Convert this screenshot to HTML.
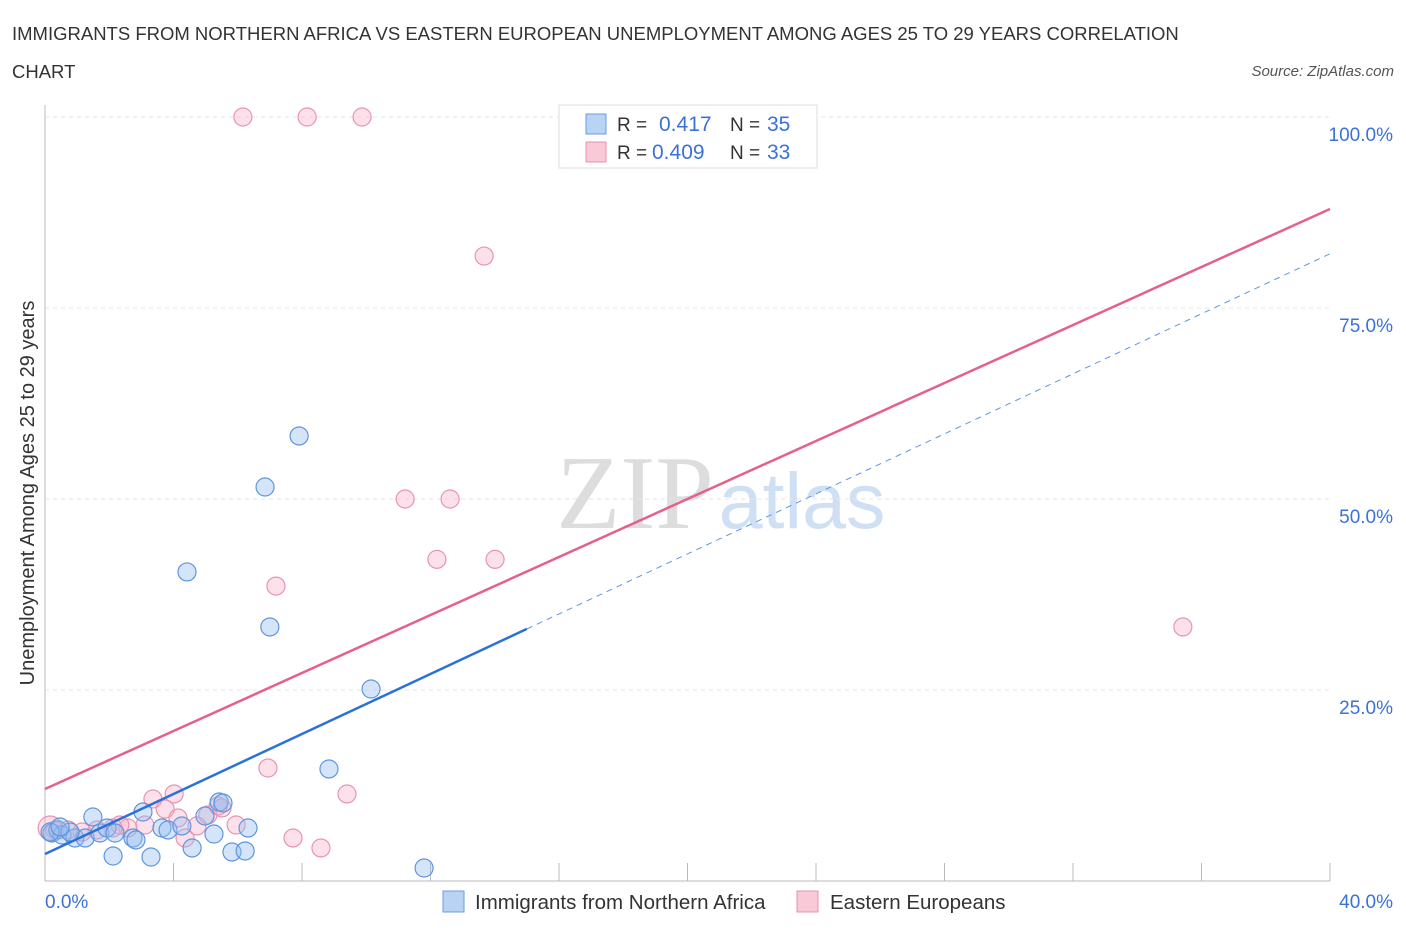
<!DOCTYPE html>
<html><head><meta charset="utf-8"><style>
body{margin:0;background:#fff;font-family:"Liberation Sans",sans-serif;}
svg text{font-family:"Liberation Sans",sans-serif;}
</style></head><body>
<svg id="c" width="1406" height="930">
<text x="12" y="40" font-size="18.5" fill="#333">IMMIGRANTS FROM NORTHERN AFRICA VS EASTERN EUROPEAN UNEMPLOYMENT AMONG AGES 25 TO 29 YEARS CORRELATION</text>
<text x="12" y="78" font-size="18.5" fill="#333">CHART</text>
<text x="1394" y="76" font-size="15" fill="#555" font-style="italic" text-anchor="end">Source: ZipAtlas.com</text>
<text x="635" y="528" font-size="105" fill="#ddd" text-anchor="middle" style="font-family:'Liberation Serif',serif">ZIP</text>
<text x="802" y="528" font-size="79" fill="#cfe0f5" text-anchor="middle">atlas</text>
<text transform="translate(34,493) rotate(-90)" font-size="20" fill="#333" text-anchor="middle">Unemployment Among Ages 25 to 29 years</text>
<g id="axes"></g><g id="marks"></g>
<g>
<rect x="559" y="105" width="258" height="63" fill="#fff" stroke="#ddd"/>
<rect x="586" y="114" width="20" height="20" fill="#b9d3f5" stroke="#6a9be0"/>
<rect x="586" y="142" width="20" height="20" fill="#f9c9d8" stroke="#e890ae"/>
<text x="617" y="131" font-size="19" fill="#333">R = </text><text x="659" y="131" font-size="21" fill="#3a72d8">0.417</text>
<text x="730" y="131" font-size="19" fill="#333">N = </text><text x="767" y="131" font-size="21" fill="#3a72d8">35</text>
<text x="617" y="159" font-size="19" fill="#333">R = </text><text x="652" y="159" font-size="21" fill="#3a72d8">0.409</text>
<text x="730" y="159" font-size="19" fill="#333">N = </text><text x="767" y="159" font-size="21" fill="#3a72d8">33</text>
</g>
<g>
<rect x="443" y="891" width="21" height="21" fill="#b9d3f5" stroke="#6a9be0"/>
<text x="475" y="909" font-size="20.5" fill="#333">Immigrants from Northern Africa</text>
<rect x="797" y="891" width="21" height="21" fill="#f9c9d8" stroke="#e890ae"/>
<text x="830" y="909" font-size="20.5" fill="#333">Eastern Europeans</text>
</g>
</svg>
<script>
const blueX=[0.22,0.40,0.53,0.93,1.25,1.49,1.71,1.93,2.18,2.12,2.74,2.83,3.05,3.30,3.64,3.83,4.26,4.42,4.58,4.98,5.26,5.42,5.54,5.82,6.23,6.32,6.85,7.00,7.91,8.84,10.15,11.80,0.16,0.78,0.47];
const blueY=[6.28,6.68,6.02,5.63,5.63,8.38,6.28,6.94,6.28,3.27,5.63,5.37,9.03,3.14,6.94,6.68,7.20,40.45,4.32,8.51,6.15,10.34,10.21,3.80,3.93,6.94,51.57,33.25,58.25,14.66,25.13,1.70,6.41,6.41,7.07];
const pinkX=[6.16,8.16,9.87,13.67,11.21,12.61,12.20,14.01,7.19,35.42,6.94,9.40,7.72,8.59,4.02,3.36,3.74,5.07,5.39,5.95,4.36,4.73,3.11,2.58,2.12,1.62,1.15,0.72,0.31,0.16,2.33,4.14,5.51];
const pinkY=[100,100,100,81.8,50,50,42.1,42.1,38.6,33.25,14.79,11.39,5.63,4.32,11.39,10.73,9.42,8.64,9.82,7.33,5.63,7.20,7.33,6.94,6.94,6.68,6.41,6.68,6.68,6.94,7.33,8.25,9.56];
const blueTrend=[3.53,82.1];const blueSolidEnd=15.0;
const pinkTrend=[12.04,87.96];
const yTicks=[25,50,75,100];const yTickLabels=["25.0%","50.0%","75.0%","100.0%"];
const xTickVals=[0,4,8,12,16,20,24,28,32,36,40];
const NS="http://www.w3.org/2000/svg";
const X=v=>45+v/40*1285, Y=v=>881-v/100*764;
function mk(t,a,p){const e=document.createElementNS(NS,t);for(const k in a)e.setAttribute(k,a[k]);p.appendChild(e);return e;}
const ax=document.getElementById('axes'),mg=document.getElementById('marks');
yTicks.forEach((v,i)=>{
 const g=mk('line',{x1:45,x2:1330,y1:Y(v),y2:Y(v),stroke:'#e6e6e6','stroke-dasharray':'4,4'},ax);
 
 
 const t=mk('text',{x:1393,y:Y(v)+24,'font-size':19,fill:'#3a72d8','text-anchor':'end'},ax);t.textContent=yTickLabels[i];
 
 
});
const yl=mk('line',{x1:45,x2:45,y1:105,y2:881,stroke:'#bbb'},ax);


const xl=mk('line',{x1:45,x2:1330,y1:881,y2:881,stroke:'#bbb'},ax);


xTickVals.forEach(v=>{const l=mk('line',{x1:X(v),x2:X(v),y1:863,y2:881,stroke:'#bbb'},ax);
 
 });
let t0=mk('text',{x:45,y:908,'font-size':19,fill:'#3a72d8'},ax);t0.textContent='0.0%';


let t1=mk('text',{x:1393,y:908,'font-size':19,fill:'#3a72d8','text-anchor':'end'},ax);t1.textContent='40.0%';


pinkX.forEach((x,i)=>{const c=mk('circle',{cx:X(x),cy:Y(pinkY[i]),r:i==29?12:9,fill:'rgba(245,170,195,0.35)',stroke:'#ea93b0','stroke-width':1.2},mg);
 
 });
blueX.forEach((x,i)=>{const c=mk('circle',{cx:X(x),cy:Y(blueY[i]),r:9,fill:'rgba(150,190,240,0.4)',stroke:'#5f95df','stroke-width':1.2},mg);
 
 });
const bAt=x=>blueTrend[0]+(blueTrend[1]-blueTrend[0])*x/40;
const pl=mk('line',{x1:X(0),y1:Y(pinkTrend[0]),x2:X(40),y2:Y(pinkTrend[1]),stroke:'#e5608b','stroke-width':2.5},mg);


const bl=mk('line',{x1:X(0),y1:Y(bAt(0)),x2:X(blueSolidEnd),y2:Y(bAt(blueSolidEnd)),stroke:'#2a72d8','stroke-width':2.5},mg);


const bd=mk('line',{x1:X(blueSolidEnd),y1:Y(bAt(blueSolidEnd)),x2:X(40),y2:Y(bAt(40)),stroke:'#5f95df','stroke-width':1,'stroke-dasharray':'6,5'},mg);


</script>
</body></html>
